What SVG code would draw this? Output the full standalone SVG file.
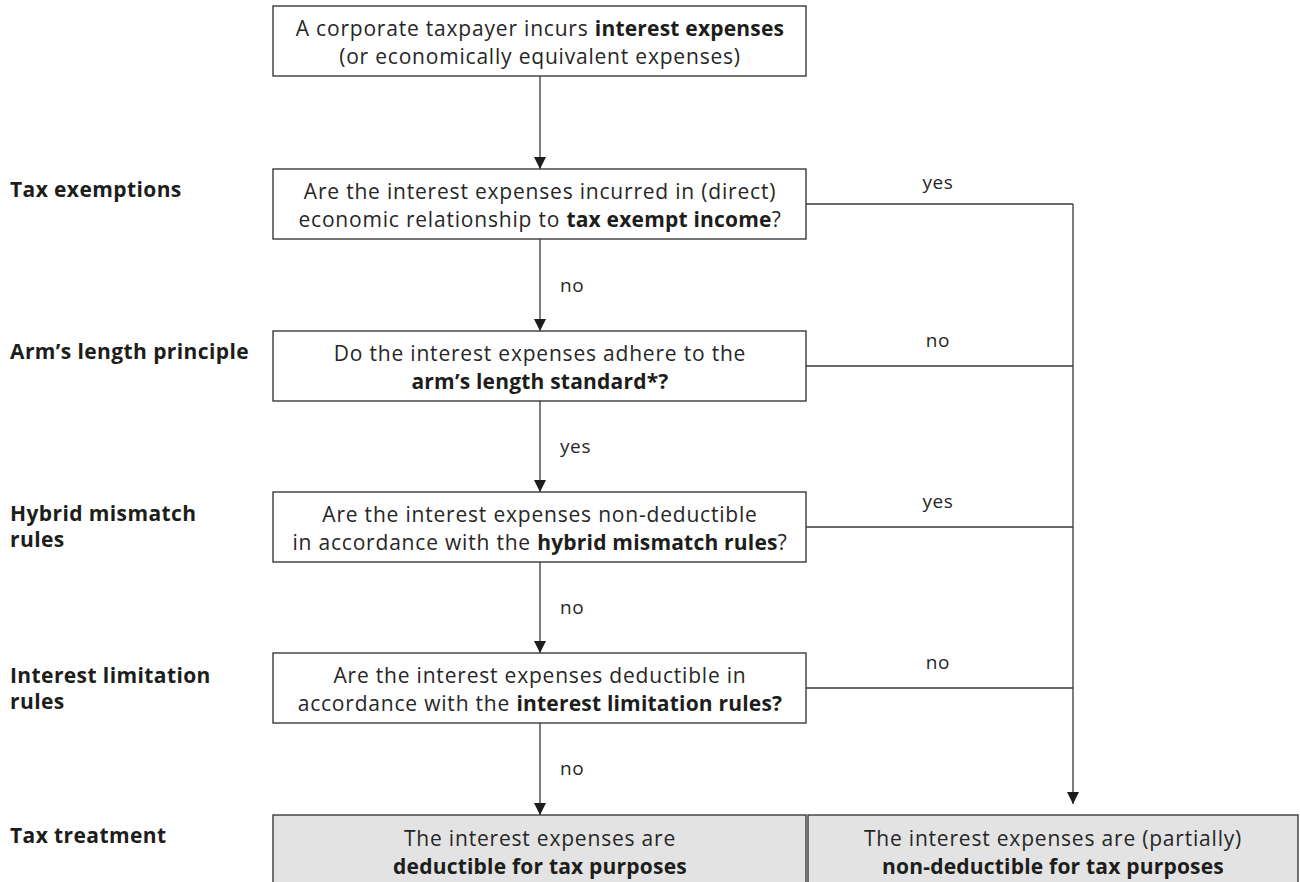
<svg xmlns="http://www.w3.org/2000/svg" width="1300" height="882" viewBox="0 0 1300 882">
<style>
.box{fill:#ffffff;stroke:#3a3a3a;stroke-width:1.4}
.res{fill:#e2e3e2;stroke:#3a3a3a;stroke-width:1.4}
.t{font-family:"Open Sans","Liberation Sans",sans-serif;font-size:21px;font-weight:400;letter-spacing:0.8px;fill:#262626;text-anchor:middle}
.b{font-weight:700;letter-spacing:0.2px;fill:#1d1d1b}
.lab{font-family:"Open Sans","Liberation Sans",sans-serif;font-size:21px;font-weight:700;letter-spacing:0.4px;fill:#1d1d1b}
.e{font-family:"Open Sans","Liberation Sans",sans-serif;font-size:19px;font-weight:400;letter-spacing:0.6px;fill:#262626}
.ln{fill:none;stroke:#3a3a3a;stroke-width:1.3}
</style>
<defs>
<marker id="ah" markerUnits="userSpaceOnUse" markerWidth="12" markerHeight="12" refX="12" refY="6" orient="auto">
<path d="M0,0 L12,6 L0,12 z" fill="#1d1d1b"/>
</marker>
</defs>
<rect width="1300" height="882" fill="#ffffff"/>

<g id="labels">
<text class="lab" x="10" y="197">Tax exemptions</text>
<text class="lab" x="10" y="359">Arm’s length principle</text>
<text class="lab" x="10" y="521">Hybrid mismatch</text>
<text class="lab" x="10" y="547">rules</text>
<text class="lab" x="10" y="683">Interest limitation</text>
<text class="lab" x="10" y="709">rules</text>
<text class="lab" x="10" y="843">Tax treatment</text>
</g>

<g id="connectors">
<line class="ln" x1="540" y1="76" x2="540" y2="169" marker-end="url(#ah)"/>
<line class="ln" x1="540" y1="239" x2="540" y2="331" marker-end="url(#ah)"/>
<line class="ln" x1="540" y1="401" x2="540" y2="492" marker-end="url(#ah)"/>
<line class="ln" x1="540" y1="562" x2="540" y2="653" marker-end="url(#ah)"/>
<line class="ln" x1="540" y1="723" x2="540" y2="815" marker-end="url(#ah)"/>
<line class="ln" x1="806" y1="204" x2="1073" y2="204"/>
<line class="ln" x1="806" y1="366" x2="1073" y2="366"/>
<line class="ln" x1="806" y1="527" x2="1073" y2="527"/>
<line class="ln" x1="806" y1="688" x2="1073" y2="688"/>
<line class="ln" x1="1073" y1="204" x2="1073" y2="804" marker-end="url(#ah)"/>
<text class="e" x="938" y="189" text-anchor="middle">yes</text>
<text class="e" x="938" y="347" text-anchor="middle">no</text>
<text class="e" x="938" y="508" text-anchor="middle">yes</text>
<text class="e" x="938" y="669" text-anchor="middle">no</text>
<text class="e" x="560" y="292">no</text>
<text class="e" x="560" y="453">yes</text>
<text class="e" x="560" y="614">no</text>
<text class="e" x="560" y="775">no</text>
</g>

<g id="start">
<rect class="box" x="273" y="6" width="533" height="70"/>
<text class="t" x="540" y="36">A corporate taxpayer incurs <tspan class="b">interest expenses</tspan></text>
<text class="t" x="540" y="64">(or economically equivalent expenses)</text>
</g>

<g id="q-exempt">
<rect class="box" x="273" y="169" width="533" height="70"/>
<text class="t" x="540" y="199">Are the interest expenses incurred in (direct)</text>
<text class="t" x="540" y="227">economic relationship to <tspan class="b">tax exempt income</tspan>?</text>
</g>

<g id="q-arm">
<rect class="box" x="273" y="331" width="533" height="70"/>
<text class="t" x="540" y="361">Do the interest expenses adhere to the</text>
<text class="t b" x="540" y="389">arm’s length standard*?</text>
</g>

<g id="q-hybrid">
<rect class="box" x="273" y="492" width="533" height="70"/>
<text class="t" x="540" y="522">Are the interest expenses non-deductible</text>
<text class="t" x="540" y="550">in accordance with the <tspan class="b">hybrid mismatch rules</tspan>?</text>
</g>

<g id="q-limit">
<rect class="box" x="273" y="653" width="533" height="70"/>
<text class="t" x="540" y="683">Are the interest expenses deductible in</text>
<text class="t" x="540" y="711">accordance with the <tspan class="b">interest limitation rules?</tspan></text>
</g>

<g id="r-deductible">
<rect class="res" x="273" y="815" width="533" height="80"/>
<text class="t" x="540" y="846">The interest expenses are</text>
<text class="t b" x="540" y="874">deductible for tax purposes</text>
</g>

<g id="r-nondeductible">
<rect class="res" x="808" y="815" width="490" height="80"/>
<text class="t" x="1053" y="846">The interest expenses are (partially)</text>
<text class="t b" x="1053" y="874">non-deductible for tax purposes</text>
</g>
</svg>
